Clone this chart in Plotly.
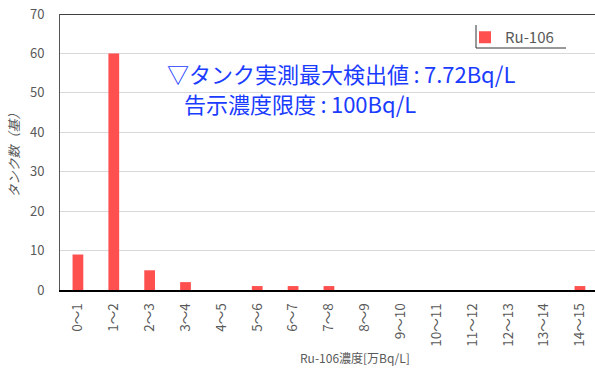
import plotly.graph_objects as go

# Tank counts per Ru-106 concentration bin (x 10^4 Bq/L)
bins = ["0～1", "1～2", "2～3", "3～4", "4～5", "5～6", "6～7", "7～8",
        "8～9", "9～10", "10～11", "11～12", "12～13", "13～14", "14～15"]
tank_counts = [9, 60, 5, 2, 0, 1, 1, 1, 0, 0, 0, 0, 0, 0, 1]
y_ticks = [0, 10, 20, 30, 40, 50, 60, 70]

FONT = "Noto Sans CJK JP"
GRAY = "#595959"
RED = "#ff5050"
BLUE = "#1a3cff"

# plot-area geometry in pixels, used to place the free-standing items
L, R, T, B = 60, 595, 14, 290
PW, PH = R - L, B - T


def px(x):
    return (x - L) / PW


def py(y):
    return (B - y) / PH


fig = go.Figure()
fig.add_trace(go.Bar(
    x=list(range(len(bins))), y=tank_counts, name="Ru-106",
    marker=dict(color=RED, line=dict(width=0)), width=0.3,
))

fig.update_layout(
    width=595, height=369,
    margin=dict(l=L, r=595 - R, t=T, b=369 - B),
    paper_bgcolor="white", plot_bgcolor="white",
    font=dict(family=FONT, color=GRAY, size=12),
    showlegend=True,
    legend=dict(x=px(465), y=py(21), xanchor="left", yanchor="top",
                bgcolor="rgba(0,0,0,0)", borderwidth=0,
                font=dict(size=15, color=GRAY, family=FONT),
                itemwidth=30),
)

fig.update_xaxes(
    range=[-0.5, 14.42],
    tickmode="array", tickvals=list(range(len(bins))), ticktext=bins,
    tickangle=-90, tickfont=dict(size=13.5, color=GRAY),
    showline=True, linecolor="black", linewidth=1.5,
    showgrid=False, ticks="", ticklabelstandoff=6,
)
fig.update_yaxes(
    range=[0, 70], tickvals=y_ticks,
    tickfont=dict(size=13, color=GRAY),
    showline=True, linecolor="#555555", linewidth=1,
    showgrid=True, gridcolor="#d9d9d9", gridwidth=1,
    zeroline=False, ticks="", ticklabelstandoff=12,
    title=dict(text="タンク数（基）",
               font=dict(size=13, color=GRAY, style="italic"), standoff=7),
)

# top border at the 70 line
fig.add_shape(type="line", xref="paper", yref="y", x0=0, x1=1, y0=70, y1=70,
              line=dict(color="black", width=1.5))

# legend frame (left and bottom edges)
fig.add_shape(type="line", xref="paper", yref="paper",
              x0=px(476), x1=px(476), y0=py(25), y1=py(48),
              line=dict(color="#333333", width=1))
fig.add_shape(type="line", xref="paper", yref="paper",
              x0=px(476), x1=px(566), y0=py(48), y1=py(48),
              line=dict(color="#333333", width=1))

fig.add_annotation(
    xref="paper", yref="paper", x=px(165), y=py(73),
    xanchor="left", yanchor="middle", showarrow=False,
    text="▽タンク実測最大検出値\u2009:\u20097.72Bq/L",
    font=dict(size=22, color=BLUE, family=FONT),
)
fig.add_annotation(
    xref="paper", yref="paper", x=px(182), y=py(103),
    xanchor="left", yanchor="middle", showarrow=False,
    text="告示濃度限度\u2009:\u2009100Bq/L",
    font=dict(size=22, color=BLUE, family=FONT),
)

fig.add_annotation(
    xref="paper", yref="paper", x=px(355), y=py(357),
    xanchor="center", yanchor="middle", showarrow=False,
    text="Ru-106濃度[万Bq/L]",
    font=dict(size=12, color=GRAY, family=FONT),
)

fig.write_html("out.html")
